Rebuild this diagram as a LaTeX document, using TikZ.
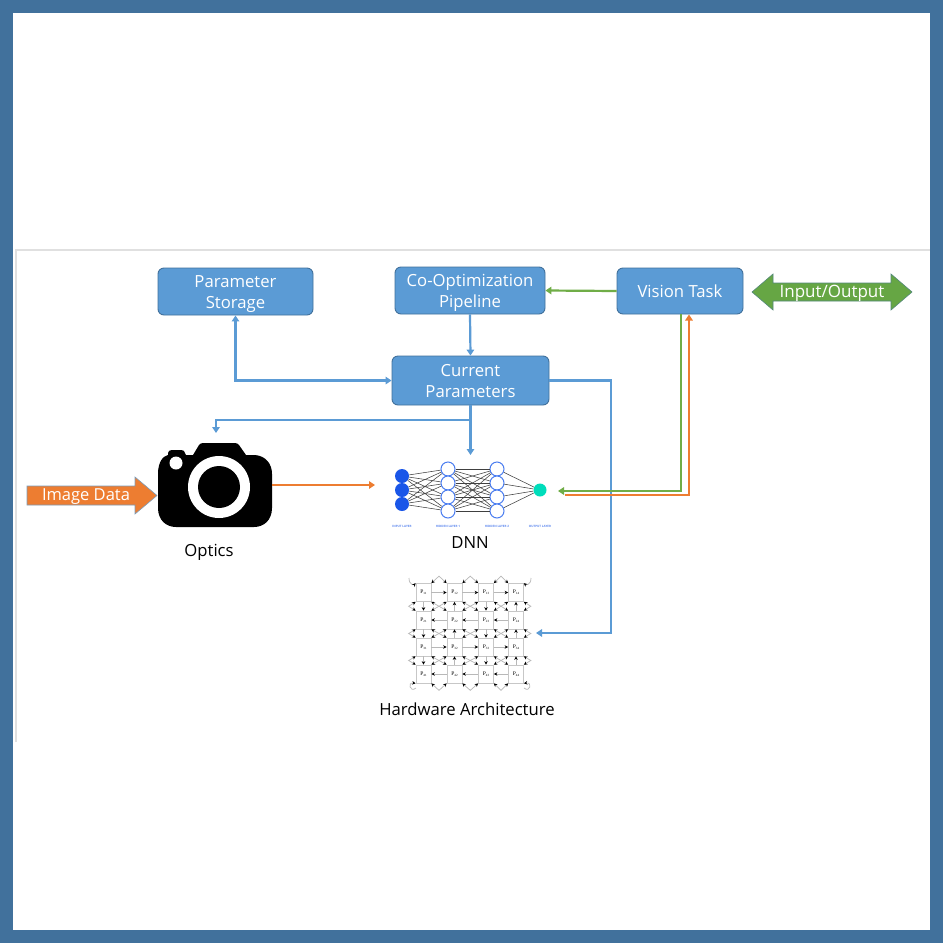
\documentclass[tikz,border=0pt]{standalone}
\usepackage{fontspec}
\setmainfont{Open Sans}
\newfontfamily\perm{Liberation Serif}
\usetikzlibrary{arrows.meta,shapes.arrows,calc}
\definecolor{frameblue}{HTML}{41719C}
\definecolor{boxblue}{HTML}{5B9BD5}
\definecolor{lineblue}{HTML}{5B9BD5}
\definecolor{gr}{HTML}{70AD47}
\definecolor{fatgreen}{HTML}{66A644}
\definecolor{orng}{HTML}{ED7D31}
\definecolor{nnblue}{HTML}{1A56E8}
\definecolor{nnring}{HTML}{4A7DF0}
\definecolor{nncyan}{HTML}{00DDBB}
\newcommand\lowline[1]{\raisebox{-6.2pt}[0pt][0pt]{#1}}
\newcommand\sbs[1]{\raisebox{-1pt}{\fontsize{3.2}{4}\selectfont #1}}
\tikzset{
 x=1pt,y=-1pt,
 pbox/.style={draw=frameblue,fill=boxblue,rounded corners=6pt,line width=0.9pt,text=white,font=\fontsize{16.7}{21}\selectfont,align=center,inner sep=0pt},
 conn/.style={line width=2.2pt,-{Triangle[length=6pt,width=7.5pt]}},
 captiontext/.style={font=\fontsize{16.7}{20}\selectfont,text=black,inner sep=0pt},
 hiddenn/.style={circle,draw=nnring,fill=white,line width=1pt,minimum size=14pt,inner sep=0pt},
 inputn/.style={circle,fill=nnblue,minimum size=14pt,inner sep=0pt},
 nnedge/.style={draw=black!75,line width=0.55pt},
 nnlab/.style={font=\fontsize{3}{4}\selectfont\bfseries,text=nnblue!70,inner sep=0pt},
 pe/.style={draw=black!22,line width=0.7pt,minimum width=15pt,minimum height=18pt,inner sep=0pt,font=\perm\fontsize{5.5}{6}\selectfont},
 noc/.style={draw=black!28,line width=0.7pt},
 nocboth/.style={noc,{Stealth[length=3.5pt,width=3.5pt,black]}-{Stealth[length=3.5pt,width=3.5pt,black]}},
 nocto/.style={noc,-{Stealth[length=3.5pt,width=3.5pt,black]}},
 nocfrom/.style={noc,{Stealth[length=3.5pt,width=3.5pt,black]}-},
 fatarrow/.style={line width=0.8pt,text=white,font=\fontsize{17}{20}\selectfont,inner sep=0pt},
}
\begin{document}
\begin{tikzpicture}
\useasboundingbox (0,0) rectangle (943,943);
\fill[frameblue] (0,0) rectangle (943,943);
\fill[white] (13,13) rectangle (930,930);
\draw[black!12,line width=1.4pt] (16,742) -- (16,250) -- (930,250);

% boxes
\node[pbox,minimum width=155pt,minimum height=47pt] (storage) at (235.5,291.5) {\lowline{Parameter}\\\lowline{Storage}};
\node[pbox,minimum width=150pt,minimum height=47pt] (coopt) at (470,290.5) {\lowline{Co-Optimization}\\\lowline{Pipeline}};
\node[pbox,minimum width=126pt,minimum height=46pt] (vision) at (680,291) {Vision Task};
\node[pbox,minimum width=157pt,minimum height=49pt] (current) at (470.5,380.5) {\lowline{Current}\\\lowline{Parameters}};

% fat arrows
\fill[fatgreen,draw=frameblue!60!gr,line width=0.6pt] (752,292) -- (773,274) -- (773,283) -- (891,283) -- (891,274) -- (912,292) -- (891,310) -- (891,301) -- (773,301) -- (773,310) -- cycle;
\node[fatarrow] (io) at (832,293) {Input/Output};
\fill[orng,draw=frameblue!70,line width=0.6pt] (27,486) -- (135,486) -- (135,477) -- (157,495.5) -- (135,514) -- (135,505) -- (27,505) -- cycle;
\node[fatarrow,font=\fontsize{16.5}{20}\selectfont] (imgdata) at (86,496.5) {Image Data};

% camera
\node[minimum width=114pt,minimum height=84pt,inner sep=0pt] (camera) at (215,485) {};
\fill[black] (158,474) .. controls (158,462) and (163,456) .. (168,455)
 -- (168,453) .. controls (168,451) and (170,450) .. (172,450) -- (181,450) .. controls (183,450) and (185,451) .. (185,453)
 -- (186,455) -- (193,455) -- (199,445) .. controls (200,444) and (201,443) .. (203,443) -- (235,443)
 .. controls (237,443) and (238,444) .. (239,445) -- (246,455) -- (255,455)
 .. controls (266,456) and (272,464) .. (272,474) -- (272,508)
 .. controls (272,520) and (264,527) .. (254,527) -- (176,527)
 .. controls (166,527) and (158,520) .. (158,508) -- cycle;
\fill[white] (219,487) circle[radius=31];
\fill[black] (219,487) circle[radius=21];
\fill[white] (176,463) circle[radius=6.5];
\node[captiontext] (optics) at (209,552) {Optics};

% DNN
\foreach \n/\y in {1/476,2/490,3/504}{\node[inputn] (in\n) at (402,\y) {};}
\foreach \n/\y in {1/469,2/483,3/497,4/511}{
 \node[hiddenn] (ha\n) at (448,\y) {};
 \node[hiddenn] (hb\n) at (497,\y) {};
}
\node[circle,fill=nncyan,minimum size=13pt,inner sep=0pt] (out) at (540,490) {};
\foreach \a in {1,2,3}{\foreach \b in {1,2,3,4}{\draw[nnedge] (in\a) -- (ha\b);}}
\foreach \a in {1,2,3,4}{\foreach \b in {1,2,3,4}{\draw[nnedge] (ha\a) -- (hb\b);}
 \draw[nnedge] (hb\a) -- (out);}
\node[nnlab] (l1) at (402,526) {INPUT LAYER};
\node[nnlab] (l2) at (448,526) {HIDDEN LAYER 1};
\node[nnlab] (l3) at (497,526) {HIDDEN LAYER 2};
\node[nnlab] (l4) at (540,526) {OUTPUT LAYER};
\node[captiontext] (dnn) at (470,543) {DNN};

% hardware grid
\foreach \r/\y in {1/592.5,2/620,3/647,4/674}{
 \foreach \c/\x in {1/423.5,2/454.5,3/486,4/516}{
  \node[pe] (p\r\c) at (\x,\y) {P\sbs{\r\c}};
 }
}
% horizontal links, one head, direction alternating by row
\foreach \c/\d in {1/2,2/3,3/4}{
 \draw[nocto] (p1\c) -- (p1\d);
 \draw[nocfrom] (p2\c) -- (p2\d);
 \draw[nocto] (p3\c) -- (p3\d);
 \draw[nocfrom] (p4\c) -- (p4\d);
}
% vertical links, one head, direction alternating by column
\foreach \r/\s in {1/2,2/3,3/4}{
 \draw[nocto] (p\r1.south) -- (p\s1.north);
 \draw[nocfrom] (p\r2.south) -- (p\s2.north);
 \draw[nocto] (p\r3.south) -- (p\s3.north);
 \draw[nocfrom] (p\r4.south) -- (p\s4.north);
}
\foreach \r/\s in {1/2,2/3,3/4}{
 \foreach \c/\d in {1/2,2/3,3/4}{
  \draw[nocboth] (p\r\c.south east) -- (p\s\d.north west);
  \draw[nocboth] (p\r\d.south west) -- (p\s\c.north east);
 }
 % outer diamonds
 \draw[nocboth] (p\r1.south west) -- ($(p\r1.south west)!.5!(p\s1.north west)+(-7,0)$) -- (p\s1.north west);
 \draw[nocboth] (p\r4.south east) -- ($(p\r4.south east)!.5!(p\s4.north east)+(7,0)$) -- (p\s4.north east);
 \draw[nocboth] (p1\r.north east) -- ($(p1\r.north east)!.5!(p1\s.north west)+(0,-7)$) -- (p1\s.north west);
 \draw[nocboth] (p4\r.south east) -- ($(p4\r.south east)!.5!(p4\s.south west)+(0,7)$) -- (p4\s.south west);
}
\draw[nocfrom] (p11.north west) .. controls (414,585) and (409,585) .. (409,578);
\draw[nocfrom] (p14.north east) .. controls (526,585) and (531,585) .. (531,578);
\draw[nocfrom] (p41.south west) .. controls (407,682) and (410,693) .. (416,688);
\draw[nocfrom] (p44.south east) .. controls (533,682) and (530,693) .. (524,688);
\node[captiontext] (hw) at (467,709) {Hardware Architecture};

% connectors
\coordinate (branch) at (470.5,420);
\coordinate (camtop) at (216,433);
\coordinate (dnntop) at (470.5,455);
\coordinate (dnnin) at (375,485);
\coordinate (gridin) at (536,633);
\coordinate (gridcorner) at (611,633);
\coordinate (dnngr) at (558,491);
\coordinate (dnnor) at (565,495);
\coordinate (visgr) at (681,314);
\coordinate (visor) at (689,314.5);
\draw[conn,gr] (vision.west) -- (coopt.east);
\draw[conn,lineblue] (coopt.south) -- (current.north);
\draw[line width=2.2pt,lineblue,{Triangle[length=6pt,width=7.5pt]}-{Triangle[length=6pt,width=7.5pt]}] (storage.south) |- (current.west);
\draw[conn,lineblue] (current.south) -- (dnntop);
\draw[conn,lineblue] (branch) -| (camtop);
\draw[conn,lineblue] (current.east) -| (gridcorner) -- (gridin);
\draw[conn,orng] (camera.east) -- (dnnin);
\draw[conn,gr] (visgr) |- (dnngr);
\draw[conn,orng] (dnnor) -| (visor);
\end{tikzpicture}
\end{document}
